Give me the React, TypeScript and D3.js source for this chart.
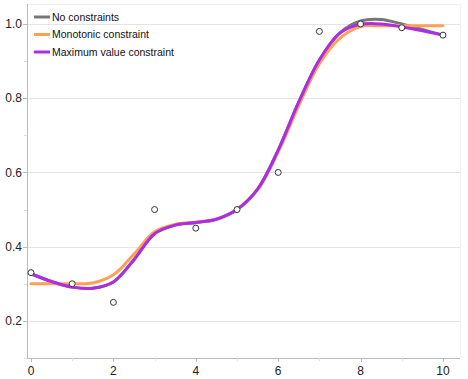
import React from "react";
import * as d3 from "d3";

const W = 468;
const H = 379;

const pointX = [0, 1, 2, 3, 4, 5, 6, 7, 8, 9, 10];
const pointY = [0.33, 0.30, 0.25, 0.50, 0.45, 0.50, 0.60, 0.98, 1.0, 0.99, 0.97];

const curveX = [0, 0.5, 1, 1.5, 2, 2.5, 3, 3.5, 4, 4.5, 5, 5.5, 6, 6.5, 7, 7.5, 8, 8.5, 9, 9.5, 10];
const noConstraint = [0.327, 0.306, 0.291, 0.288, 0.305, 0.365, 0.435, 0.458, 0.465, 0.474, 0.5, 0.555, 0.66, 0.79, 0.903, 0.976, 1.008, 1.012, 1.0, 0.985, 0.97];
const monotonic = [0.30, 0.30, 0.30, 0.302, 0.324, 0.38, 0.44, 0.46, 0.466, 0.474, 0.5, 0.553, 0.655, 0.78, 0.893, 0.962, 0.993, 0.995, 0.995, 0.995, 0.995];
const maxValue = [0.327, 0.306, 0.291, 0.288, 0.305, 0.365, 0.435, 0.458, 0.465, 0.474, 0.5, 0.555, 0.66, 0.79, 0.903, 0.976, 0.999, 1.0, 0.992, 0.982, 0.97];

const seriesNames = ["No constraints", "Monotonic constraint", "Maximum value constraint"];
const seriesColors = ["#777777", "#ffa055", "#ac2de4"];
const seriesValues = [noConstraint, monotonic, maxValue];

const xMajor = [0, 2, 4, 6, 8, 10];
const xMinor = [1, 3, 5, 7, 9];
const yMajor = [0.2, 0.4, 0.6, 0.8, 1.0];
const yMinor = [0.1, 0.3, 0.5, 0.7, 0.9];

const plotL = 27, plotR = 460, plotT = 4, plotB = 358;

export default function App() {
  const x = d3.scaleLinear().domain([0, 10]).range([31, 443]);
  const y = d3.scaleLinear().domain([0.1, 1.0]).range([plotB, 24]);
  const font = "'Liberation Sans', Arial, Helvetica, sans-serif";

  const line = d3
    .line<number>()
    .x((_, i) => x(curveX[i]))
    .y((d) => y(d))
    .curve(d3.curveCatmullRom.alpha(0.5));

  return (
    <svg width={W} height={H} style={{ position: "absolute", left: 0, top: 0 }}>
      <rect x={0} y={0} width={W} height={H} fill="#fff" />
      {/* frame */}
      <line x1={plotL} x2={plotR} y1={plotT + 0.5} y2={plotT + 0.5} stroke="#f0f0f0" />
      <line x1={plotR + 0.5} x2={plotR + 0.5} y1={plotT} y2={plotB} stroke="#f0f0f0" />
      {/* gridlines */}
      {yMajor.map((v) => (
        <line key={"g" + v} x1={plotL} x2={plotR} y1={Math.round(y(v)) + 0.5} y2={Math.round(y(v)) + 0.5} stroke="#e4e4e4" />
      ))}
      {/* y axis */}
      <line x1={plotL + 0.5} x2={plotL + 0.5} y1={plotT} y2={plotB} stroke="#bbb" />
      {yMajor.map((v) => (
        <g key={"ym" + v}>
          <line x1={plotL - 4} x2={plotL} y1={Math.round(y(v)) + 0.5} y2={Math.round(y(v)) + 0.5} stroke="#bbb" />
          <text x={22} y={y(v)} dy="0.35em" textAnchor="end" fontFamily={font} fontSize={12} fill="#222">
            {d3.format(".1f")(v)}
          </text>
        </g>
      ))}
      {yMinor.map((v) => (
        <line key={"yn" + v} x1={plotL - 3} x2={plotL} y1={Math.round(y(v)) + 0.5} y2={Math.round(y(v)) + 0.5} stroke="#ddd" />
      ))}
      {/* x axis */}
      <line x1={plotL} x2={plotR} y1={plotB + 0.5} y2={plotB + 0.5} stroke="#bbb" />
      {xMajor.map((v) => (
        <g key={"xm" + v}>
          <line x1={Math.round(x(v)) + 0.5} x2={Math.round(x(v)) + 0.5} y1={plotB} y2={plotB + 4} stroke="#bbb" />
          <text x={x(v)} y={371} dy="0.35em" textAnchor="middle" fontFamily={font} fontSize={12} fill="#222">
            {v}
          </text>
        </g>
      ))}
      {xMinor.map((v) => (
        <line key={"xn" + v} x1={Math.round(x(v)) + 0.5} x2={Math.round(x(v)) + 0.5} y1={plotB} y2={plotB + 3} stroke="#ddd" />
      ))}
      {/* curves */}
      {seriesValues.map((vals, i) => (
        <path key={"s" + i} d={line(vals) || ""} fill="none" stroke={seriesColors[i]} strokeWidth={3} strokeLinejoin="round" strokeLinecap="round" />
      ))}
      {/* points */}
      {pointX.map((px, i) => (
        <circle key={"p" + i} cx={x(px)} cy={y(pointY[i])} r={3} fill="#fff" stroke="#333" strokeWidth={1} />
      ))}
      {/* legend */}
      {seriesNames.map((name, i) => (
        <g key={"l" + i} transform={`translate(34, ${17 + i * 17.5})`}>
          <line x1={0} x2={16} y1={0} y2={0} stroke={seriesColors[i]} strokeWidth={3} />
          <text x={18} y={0} dy="0.35em" fontFamily={font} fontSize={10.5} fill="#111">
            {name}
          </text>
        </g>
      ))}
    </svg>
  );
}
